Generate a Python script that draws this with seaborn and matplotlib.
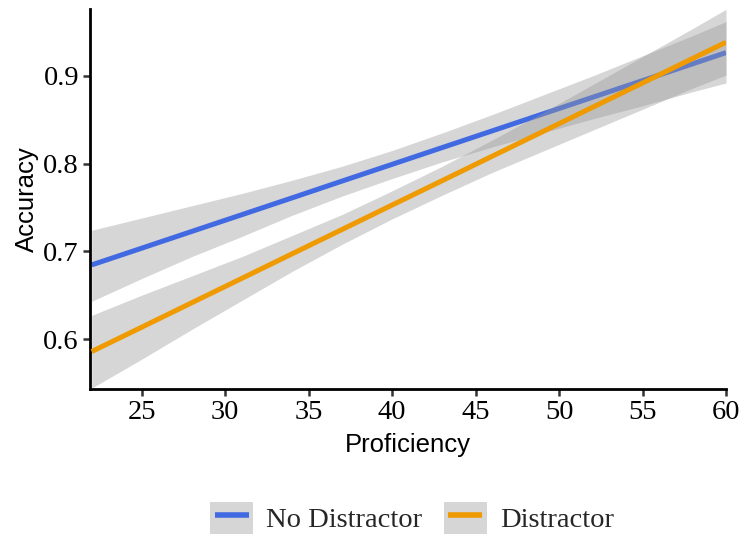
import numpy as np
import pandas as pd
import matplotlib
matplotlib.use("Agg")
import matplotlib.pyplot as plt
import seaborn as sns
from matplotlib.lines import Line2D
from matplotlib.patches import Patch
from matplotlib.legend_handler import HandlerTuple, HandlerLine2D

# ---- data ----
proficiency = [22, 25, 28, 31, 34, 37, 40, 43, 46, 49, 52, 55, 58, 60]

no_distractor_fit = [0.6845, 0.7036, 0.7227, 0.7418, 0.7609, 0.7801, 0.7992,
                     0.8183, 0.8374, 0.8565, 0.8756, 0.8947, 0.9138, 0.9266]
no_distractor_lower = [0.643, 0.669, 0.694, 0.717, 0.741, 0.763, 0.783,
                       0.802, 0.819, 0.835, 0.851, 0.866, 0.882, 0.892]
no_distractor_upper = [0.724, 0.738, 0.752, 0.766, 0.781, 0.797, 0.815,
                       0.835, 0.856, 0.878, 0.900, 0.923, 0.946, 0.962]

distractor_fit = [0.5857, 0.6135, 0.6414, 0.6692, 0.6971, 0.7249, 0.7528,
                  0.7806, 0.8085, 0.8363, 0.8642, 0.8920, 0.9199, 0.9384]
distractor_lower = [0.544, 0.577, 0.611, 0.644, 0.677, 0.708, 0.737,
                    0.764, 0.790, 0.814, 0.838, 0.862, 0.886, 0.901]
distractor_upper = [0.627, 0.650, 0.672, 0.694, 0.718, 0.742, 0.769,
                    0.797, 0.827, 0.858, 0.890, 0.922, 0.954, 0.976]

conditions = ["No Distractor", "Distractor"]
line_colors = ["#4169E1", "#EE9A00"]
x_ticks = [25, 30, 35, 40, 45, 50, 55, 60]
y_ticks = [0.6, 0.7, 0.8, 0.9]

df = pd.concat([
    pd.DataFrame({"Proficiency": proficiency, "Accuracy": no_distractor_fit,
                  "lower": no_distractor_lower, "upper": no_distractor_upper,
                  "Condition": conditions[0]}),
    pd.DataFrame({"Proficiency": proficiency, "Accuracy": distractor_fit,
                  "lower": distractor_lower, "upper": distractor_upper,
                  "Condition": conditions[1]}),
], ignore_index=True)

# ---- style ----
sns.set_theme(style="ticks")
plt.rcParams["font.family"] = ["Liberation Sans", "DejaVu Sans"]

fig = plt.figure(figsize=(7.45, 5.38), dpi=100)
ax = fig.add_axes([90 / 745, 1 - 389 / 538, (726 - 90) / 745, (389 - 9.3) / 538])

z = 1
for cond, col in zip(conditions, line_colors):
    sub = df[df["Condition"] == cond]
    ax.fill_between(sub["Proficiency"], sub["lower"], sub["upper"],
                    color=(0.6, 0.6, 0.6), alpha=0.4, lw=0, zorder=z)
    sns.lineplot(data=sub, x="Proficiency", y="Accuracy", color=col, lw=3.6,
                 ax=ax, legend=False, zorder=z + 1, solid_capstyle="butt")
    z += 2

ax.set_xlim(21.9, 60)
ax.set_ylim(0.543, 0.976)
ax.set_xticks(x_ticks)
ax.set_yticks(y_ticks)
ax.set_xticklabels([str(t) for t in x_ticks], family="Liberation Serif", fontsize=20.5)
ax.set_yticklabels([f"{t:.1f}" for t in y_ticks], family="Liberation Serif", fontsize=20.5)
ax.tick_params(axis="both", length=5, width=1.8, color="#333333",
               labelcolor="black", pad=3)

for s in ["top", "right"]:
    ax.spines[s].set_visible(False)
for s in ["left", "bottom"]:
    ax.spines[s].set_linewidth(2.0)
    ax.spines[s].set_color("black")

ax.set_xlabel("Proficiency", fontsize=18.5, color="black", labelpad=6)
ax.set_ylabel("Accuracy", fontsize=18.5, color="black", labelpad=3)

# ---- legend ----
handles = []
for col in line_colors:
    bg = Patch(facecolor="#D6D6D6", edgecolor="none")
    ln = Line2D([0], [0], color=col, lw=4.0, solid_capstyle="butt")
    handles.append((bg, ln))

fig.legend(handles, conditions, loc="center",
           bbox_to_anchor=(412 / 745, 1 - 518 / 538),
           ncol=2, frameon=False,
           prop={"family": "Liberation Serif", "size": 20.5},
           handlelength=1.51, handleheight=1.4, handletextpad=0.46,
           columnspacing=0.74, borderpad=0, borderaxespad=0,
           handler_map={tuple: HandlerTuple(ndivide=1, pad=0),
                        Line2D: HandlerLine2D(numpoints=2, marker_pad=0.16)})

fig.savefig("out.png", dpi=100)
